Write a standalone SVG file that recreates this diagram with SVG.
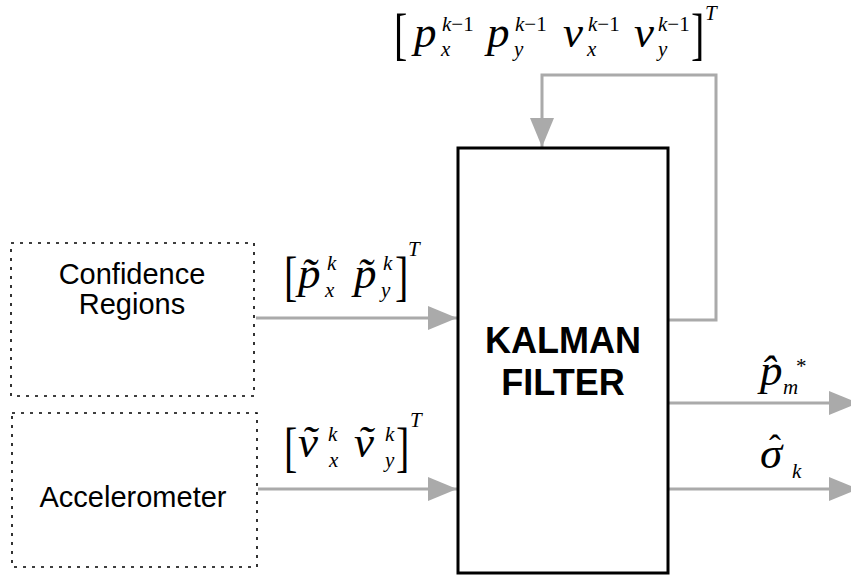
<svg xmlns="http://www.w3.org/2000/svg" width="851" height="576" viewBox="0 0 851 576">
  <style>
    .src { fill: none; stroke: #000; stroke-width: 1.6; stroke-dasharray: 3 6; }
    .kf { fill: #fff; stroke: #000; stroke-width: 3; }
    .wire { fill: none; stroke: #aaaaaa; stroke-width: 3; }
    .lbl { font-family: "Liberation Sans", Arial, sans-serif; font-size: 29px; fill: #000; text-anchor: middle; }
    .big { font-family: "Liberation Sans", Arial, sans-serif; font-size: 36px; font-weight: bold; fill: #000; text-anchor: middle; }
    .m { font-family: "Liberation Serif", "Times New Roman", serif; font-style: italic; fill: #000; }
    .mr { font-family: "Liberation Serif", "Times New Roman", serif; fill: #000; }
    .b { font-size: 45px; }
    .s { font-size: 21px; }
    .acc { font-family: "Liberation Serif", "Times New Roman", serif; font-style: normal; font-size: 36px; }
    .br { font-family: "Liberation Serif", "Times New Roman", serif; font-size: 40px; fill: #000; }
  </style>
  <defs>
    <marker id="ah" markerUnits="userSpaceOnUse" markerWidth="29" markerHeight="24" refX="29" refY="12" orient="auto">
      <path d="M0,0 L29,12 L0,24 z" fill="#aaaaaa"/>
    </marker>
  </defs>

  <!-- connectors -->
  <g id="connectors">
    <path class="wire" d="M256,318 H457" marker-end="url(#ah)"/>
    <path class="wire" d="M258,489 H457" marker-end="url(#ah)"/>
    <path class="wire" d="M668,320 H716 V75 H542 V147" marker-end="url(#ah)"/>
    <path class="wire" d="M668,403 H858" marker-end="url(#ah)"/>
    <path class="wire" d="M668,489 H858" marker-end="url(#ah)"/>
  </g>

  <!-- source blocks -->
  <g id="confidence-regions">
    <rect class="src" x="11" y="243" width="243" height="153"/>
    <text class="lbl" x="132" y="284">Confidence</text>
    <text class="lbl" x="132" y="314">Regions</text>
  </g>
  <g id="accelerometer">
    <rect class="src" x="12" y="413" width="245" height="154"/>
    <text class="lbl" x="133" y="507">Accelerometer</text>
  </g>

  <!-- filter block -->
  <g id="kalman-filter">
    <rect class="kf" x="458" y="148" width="210" height="425"/>
    <text class="big" x="563" y="353">KALMAN</text>
    <text class="big" x="563" y="395">FILTER</text>
  </g>

  <!-- state vector fed back -->
  <g id="label-state">
    <text class="br" transform="translate(394,53) scale(1,1.45)">[</text>
    <text class="m b" x="414" y="47">p</text>
    <text class="mr s" x="442" y="31"><tspan class="m">k</tspan>−1</text>
    <text class="m s" x="441" y="56">x</text>
    <text class="m b" x="487" y="47">p</text>
    <text class="mr s" x="515" y="31"><tspan class="m">k</tspan>−1</text>
    <text class="m s" x="514" y="56">y</text>
    <text class="m b" x="563" y="47">v</text>
    <text class="mr s" x="588" y="31"><tspan class="m">k</tspan>−1</text>
    <text class="m s" x="587" y="56">x</text>
    <text class="m b" x="634" y="47">v</text>
    <text class="mr s" x="658" y="31"><tspan class="m">k</tspan>−1</text>
    <text class="m s" x="658" y="56">y</text>
    <text class="br" transform="translate(691,53) scale(1,1.45)">]</text>
    <text class="m s" x="705" y="20">T</text>
  </g>

  <!-- measured position -->
  <g id="label-position">
    <text class="br" transform="translate(284,295) scale(1,1.35)">[</text>
    <text class="m b" x="298" y="288">p̃</text>
    <text class="m s" x="327" y="270">k</text>
    <text class="m s" x="325" y="297">x</text>
    <text class="m b" x="354" y="288">p̃</text>
    <text class="m s" x="383" y="270">k</text>
    <text class="m s" x="381" y="297">y</text>
    <text class="br" transform="translate(395,295) scale(1,1.35)">]</text>
    <text class="m s" x="408" y="256">T</text>
  </g>

  <!-- measured velocity -->
  <g id="label-velocity">
    <text class="br" transform="translate(284,466) scale(1,1.35)">[</text>
    <text class="m b" x="298" y="457">ṽ</text>
    <text class="m s" x="328" y="441">k</text>
    <text class="m s" x="329" y="467">x</text>
    <text class="m b" x="354" y="457">ṽ</text>
    <text class="m s" x="385" y="441">k</text>
    <text class="m s" x="385" y="467">y</text>
    <text class="br" transform="translate(396,466) scale(1,1.35)">]</text>
    <text class="m s" x="410" y="427">T</text>
  </g>

  <!-- outputs -->
  <g id="label-estimate">
    <text class="m b" x="760" y="385">p̂</text>
    <text class="mr s" x="796" y="373">*</text>
    <text class="m s" x="783" y="394">m</text>
  </g>
  <g id="label-sigma">
    <text class="m b" x="760" y="468">σ<tspan class="acc" x="769" y="460">ˆ</tspan></text>
    <text class="m s" x="792" y="478">k</text>
  </g>
</svg>
